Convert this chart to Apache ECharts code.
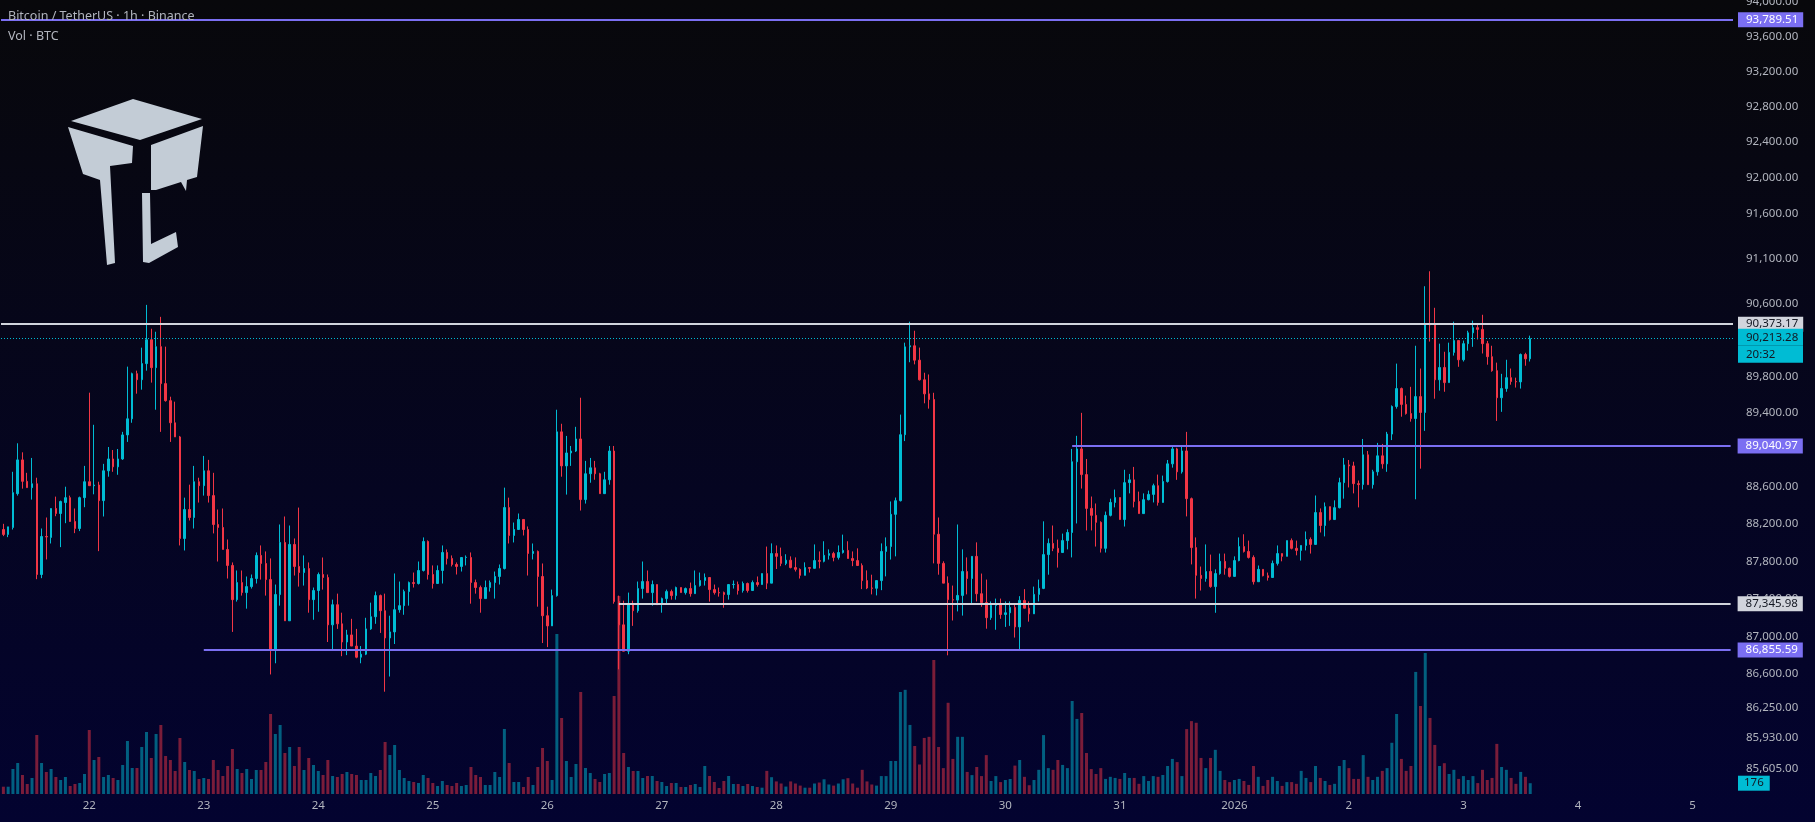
<!DOCTYPE html>
<html>
<head>
<meta charset="utf-8">
<script src="https://cdn.jsdelivr.net/npm/echarts@6/dist/echarts.min.js"></script>
<style>
  html, body { margin: 0; padding: 0; background: #050508; }
  #main { width: 1815px; height: 822px; }
</style>
</head>
<body>
<div id="main"></div>
<script>
// BTCUSDT 1h candles, Dec 21 06:00 -> Jan 3 14:00
const opens = [
  88140,88087,88162,88526,88891,88659,88591,88633,87658,88065,88055,88366,88312,88430,88483,88226,88151,88483,88655,88612,
  88619,88451,88773,88901,88816,88901,89162,89337,89830,89764,89940,90202,89896,90126,89721,89535,89294,89140,88044,88355,
  88269,88655,88612,88773,88505,88194,88162,87926,87755,87390,87572,87465,87529,87615,87862,87776,87604,86854,87444,88001,
  87165,87980,87744,87679,87722,87390,87487,87658,87626,87122,87336,87133,86940,87015,86897,86779,86811,87079,87208,87433,
  87272,86983,87047,87283,87326,87476,87572,87562,87701,88012,87658,87562,87701,87894,87830,87765,87744,87840,87840,87572,
  87519,87401,87519,87572,87637,87722,88376,88076,88140,88248,88140,87883,87905,87637,87219,87111,87433,89195,88826,88966,
  88987,89118,88462,88741,88805,88741,88526,88676,88987,87369,87122,86843,87336,87272,87508,87583,87465,87551,87347,87401,
  87476,87433,87519,87465,87508,87454,87540,87594,87626,87497,87465,87465,87444,87551,87551,87487,87562,87487,87572,87551,
  87668,87566,87882,87852,87777,87811,87732,87713,87649,87732,87724,87807,87799,87863,87882,87841,87893,87916,87829,87807,
  87754,87593,87514,87511,87593,87905,87957,88303,88450,89164,90124,90136,89978,89763,89609,89548,88089,87777,87566,87390,
  87385,87435,87690,87615,87852,87453,87359,87198,87329,87341,87232,87250,87307,87100,87382,87299,87239,87446,87510,87871,
  87991,87938,87893,88021,88108,88871,89010,88732,88367,88292,88217,87938,88292,88431,88484,88247,88645,88675,88442,88311,
  88461,88518,88612,88431,88657,88848,89010,88762,88988,88472,87946,87649,87615,87690,87529,87668,87799,87724,87638,87807,
  87957,87905,87841,87581,87713,87645,87626,87777,87882,87852,88021,87938,87916,87969,88033,87980,88322,88183,88386,88247,
  88375,88645,88837,88826,88634,88624,88946,88623,88762,88935,88848,89171,89471,89667,89494,89394,89340,89579,89406,90370,
  90366,89763,89897,89732,90063,90193,89982,90159,90278,90335,90316,90159,90016,89863,89567,89667,89786,89744,89740,90040,
  89993
];
const closes = [
  88087,88169,88537,88891,88659,88591,88633,87658,88065,88060,88366,88312,88441,88483,88226,88151,88483,88655,88612,88619,
  88451,88773,88901,88816,88901,89162,89337,89830,89764,89940,90202,89896,90126,89721,89535,89294,89140,88044,88355,88269,
  88655,88612,88773,88505,88194,88162,87926,87755,87390,87572,87465,87529,87615,87862,87776,87604,86854,87444,88001,87165,
  87980,87744,87679,87722,87390,87487,87658,87626,87122,87336,87133,86940,87015,86897,86779,86811,87079,87208,87433,87272,
  86983,87047,87283,87326,87476,87572,87562,87701,88012,87658,87562,87701,87894,87830,87765,87744,87840,87843,87572,87519,
  87401,87519,87572,87637,87722,88376,88076,88140,88248,88140,87883,87905,87637,87219,87111,87433,89195,88826,88966,88987,
  89118,88462,88741,88805,88741,88526,88676,88987,87369,87122,86843,87336,87272,87508,87583,87465,87551,87336,87401,87476,
  87433,87519,87465,87508,87454,87540,87594,87626,87497,87465,87462,87444,87551,87553,87487,87562,87487,87572,87551,87668,
  87566,87882,87852,87777,87811,87732,87713,87649,87732,87724,87807,87799,87863,87882,87841,87893,87916,87829,87807,87754,
  87593,87514,87511,87593,87905,87957,88303,88450,89164,90124,90136,89978,89763,89609,89548,88089,87777,87566,87390,87385,
  87435,87690,87615,87852,87453,87359,87198,87329,87341,87232,87250,87307,87100,87382,87299,87239,87446,87510,87871,87991,
  87938,87893,88021,88108,88871,89010,88732,88367,88292,88217,87938,88292,88431,88484,88247,88645,88675,88442,88311,88461,
  88518,88612,88431,88657,88848,89010,88762,88988,88472,87946,87649,87615,87690,87529,87668,87799,87724,87638,87807,87957,
  87905,87841,87581,87713,87645,87626,87777,87882,87852,88021,87938,87916,87969,88033,87980,88322,88183,88386,88247,88375,
  88645,88837,88826,88634,88624,88946,88623,88762,88935,88848,89171,89471,89667,89494,89394,89340,89579,89406,90370,90366,
  89763,89897,89732,90063,90193,89982,90159,90278,90335,90316,90159,90016,89863,89567,89667,89786,89744,89740,90040,89993,
  90213.28
];
const lows = [
  88069,88058,88140,88505,88580,88591,88462,87608,87619,87819,87990,88283,87951,88208,88226,88101,88123,88380,88612,88519,
  87908,88280,88709,88762,88730,88891,89086,89294,89611,89655,89863,89732,89436,89195,89524,89086,89140,87969,87915,88237,
  88151,88430,88505,88430,88098,87797,87926,87615,87047,87369,87433,87294,87508,87562,87604,87433,86597,86715,87326,87165,
  87165,87647,87529,87540,87251,87176,87261,87497,86940,86865,87079,86790,86801,86897,86768,86715,86801,87069,87133,87036,
  86415,86575,86919,87251,87229,87326,87519,87551,87690,87604,87508,87562,87562,87765,87744,87658,87690,87755,87347,87454,
  87251,87401,87476,87401,87551,87712,87990,88001,88140,88076,87647,87819,87315,86929,86886,87111,87422,88709,88516,88826,
  88977,88344,88419,88644,88676,88526,88526,88623,87347,86651,86843,86811,87111,87251,87401,87465,87326,87336,87251,87336,
  87390,87390,87465,87444,87422,87454,87529,87540,87369,87444,87422,87304,87390,87508,87444,87465,87465,87487,87529,87551,
  87502,87566,87717,87747,87758,87724,87690,87615,87649,87679,87724,87724,87788,87818,87799,87818,87882,87829,87747,87754,
  87502,87502,87446,87435,87491,87638,87818,87852,88442,89095,89955,89932,89755,89506,89448,87777,87656,87566,86799,87168,
  87265,87220,87446,87352,87371,87314,87081,87175,87070,87186,87100,87111,86987,86856,87299,87156,87239,87371,87502,87656,
  87908,87732,87893,87927,87841,88205,88581,88130,88130,87957,87893,87893,88281,88378,88247,88172,88529,88378,88311,88311,
  88454,88431,88397,88431,88645,88807,88675,88743,88281,87766,87401,87487,87581,87517,87250,87656,87656,87626,87638,87799,
  87893,87829,87551,87581,87638,87593,87626,87754,87799,87852,87927,87863,87807,87916,87882,87980,88108,88066,88236,88247,
  88367,88472,88593,88529,88378,88570,88623,88581,88721,88796,88762,89106,89448,89360,89383,89306,88465,88796,89206,90182,
  89556,89644,89632,89732,90028,89905,89963,90082,90124,90205,90051,89928,89851,89314,89413,89632,89709,89678,89667,89917,
  89963
];
const highs = [
  88201,88169,88762,89071,88973,88751,88912,88698,88151,88269,88366,88494,88451,88601,88505,88366,88494,88826,89622,89272,
  88655,88848,89031,88998,89009,89195,89907,89841,89863,90115,90586,90323,90290,90454,90126,89578,89524,89151,88483,88623,
  88826,88698,88934,88891,88751,88355,88366,88033,87787,87701,87701,87637,87658,87894,87969,87905,87830,87551,88194,88280,
  88183,88044,88376,87862,87787,87519,87679,87840,87658,87390,87454,87251,87069,87186,87079,86897,87197,87358,87476,87444,
  87454,87219,87669,87583,87497,87583,87679,87797,88055,88023,87755,87755,87969,87926,87862,87787,87840,87862,87894,87604,
  87540,87594,87594,87690,87765,88591,88483,88215,88312,88248,88173,87990,87915,87776,87315,87497,89436,89283,89151,89042,
  89250,89567,88880,88912,88880,88751,88762,89042,89042,87433,87379,87465,87379,87583,87797,87701,87594,87551,87412,87497,
  87497,87529,87519,87519,87572,87701,87679,87669,87626,87551,87519,87476,87551,87594,87583,87583,87572,87594,87637,87668,
  87957,87991,87969,87946,87875,87852,87841,87724,87788,87732,87980,87905,88014,87927,87901,87969,88085,88014,87905,87938,
  87777,87702,87656,87593,87991,88055,88442,88484,89383,90170,90401,90301,90116,89840,89821,89621,88269,87799,87638,87540,
  88194,87927,87841,87852,88002,87668,87604,87371,87401,87401,87371,87371,87352,87427,87502,87371,87529,87604,88228,88044,
  88183,88032,88096,88142,89010,89152,89402,88901,88495,88420,88228,88333,88472,88570,88484,88784,88739,88815,88548,88529,
  88559,88634,88732,88721,88890,89041,89022,89033,89195,88484,88055,87743,87980,87871,87713,87882,87882,87732,87852,88055,
  88089,88021,87863,87754,87713,87679,87807,87969,87882,88021,88044,88021,87969,88119,88055,88506,88367,88431,88386,88454,
  88698,88912,88890,88871,88668,89118,88988,88784,89075,89064,89195,89483,89940,89678,89590,89686,90136,89886,90792,90958,
  90554,90159,90070,90170,90401,90193,90193,90301,90412,90378,90477,90189,90136,89951,89828,89982,89886,89786,90051,90059,
  90247
];
const volumes = [
  119,119,408,505,310,163,261,962,505,359,408,277,228,277,130,163,179,326,1043,554,
  603,277,310,261,228,473,864,424,424,766,1011,587,978,1125,619,554,375,913,522,391,
  375,245,261,245,554,391,293,456,734,408,342,408,245,391,391,522,1304,978,1125,668,
  766,456,766,391,587,473,375,310,554,293,277,326,359,326,310,228,228,342,293,391,
  848,636,799,391,261,212,196,179,310,261,179,130,212,147,130,179,130,147,440,310,
  277,147,147,359,277,1060,505,196,196,114,277,147,440,750,538,228,2608,1239,538,277,
  489,1663,424,342,245,196,326,342,1597,3227,668,440,375,375,261,293,293,212,196,130,
  179,179,114,114,147,163,114,456,293,196,98,212,293,163,163,130,163,130,114,103,
  377,274,205,171,121,205,171,137,103,103,171,187,240,155,137,171,240,258,171,103,
  394,205,155,137,292,292,538,538,1663,1698,1126,782,481,914,932,2184,766,422,1487,572,
  932,932,360,308,440,292,634,212,292,194,228,245,463,554,280,143,228,394,960,422,
  394,554,474,422,1516,1224,1320,668,406,326,422,246,280,262,246,342,262,262,166,292,
  212,292,280,310,456,572,520,292,1058,1188,1161,588,422,588,720,377,228,194,228,246,
  212,148,456,280,132,228,280,212,132,194,194,166,377,262,194,456,262,212,148,166,
  456,554,422,246,246,634,280,228,280,377,422,835,1304,572,377,456,1990,1434,2298,1240,
  800,456,502,326,394,246,292,228,292,178,394,228,262,817,440,394,262,166,360,280,
  176
];
// right price scale labels
const priceTicks = [94000, 93600, 93200, 92800, 92400, 92000, 91600, 91100, 90600, 89800, 89400,
  88600, 88200, 87800, 87400, 87000, 86600, 86250, 85930, 85605];
// drawn levels
const topLevel = 93789.51;
const resistance = 90373.17;
const lastPrice = 90213.28;
const midLevel = 89040.97;
const supportHigh = 87345.98;
const supportLow = 86855.59;
const lastVolume = 176;

// hourly categories, with empty room on the right
const slotCount = 363;
const startMs = Date.UTC(2025, 11, 21, 6);
const categories = [];
for (let i = 0; i < slotCount; i++) {
  categories.push(new Date(startMs + i * 3600000).toISOString().slice(0, 16).replace('T', ' '));
}

const upColor = '#00bcd4';
const downColor = '#f23645';
const purple = '#7b6ff2';
const grey = '#d1d4dc';
const textGrey = '#b2b5be';
const dark = '#131722';
const font = 'Noto Sans';

const fmt = v => Number(v).toLocaleString('en-US', { minimumFractionDigits: 2, maximumFractionDigits: 2 });

const candleData = opens.map((o, i) => [o, closes[i], lows[i], highs[i]]);
const volData = volumes.map((v, i) => ({
  value: v,
  itemStyle: { color: closes[i] >= opens[i] ? 'rgba(0,188,212,0.5)' : 'rgba(242,54,69,0.5)' }
}));

function tag(bg, fg, extra) {
  return Object.assign({
    show: true, position: 'end', distance: 5,
    backgroundColor: bg, color: fg,
    fontFamily: font, fontSize: 11.5, lineHeight: 12,
    padding: [2, 5, 1, 8]
  }, extra || {});
}

const lastSlot = slotCount - 1;

var chartDom = document.getElementById('main');
var myChart = echarts.init(chartDom);
var option = {
  animation: false,
  backgroundColor: {
    type: 'linear', x: 0, y: 0, x2: 0, y2: 1,
    colorStops: [{ offset: 0, color: '#08080b' }, { offset: 1, color: '#030330' }]
  },
  title: {
    text: 'Bitcoin / TetherUS · 1h · Binance',
    subtext: 'Vol · BTC',
    left: 8, top: 10, padding: 0, itemGap: 7,
    textStyle: { color: textGrey, fontSize: 12.5, fontWeight: 'normal', fontFamily: font, lineHeight: 12 },
    subtextStyle: { color: textGrey, fontSize: 12.5, fontFamily: font, lineHeight: 12 }
  },
  graphic: [
    { type: 'polygon', silent: true, z: 0,
      shape: { points: [[71, 121], [133, 99], [202, 119], [140, 140]] },
      style: { fill: '#c3ccd6' } },
    { type: 'polygon', silent: true, z: 0,
      shape: { points: [[68, 127], [133, 146], [132, 163], [110, 166], [115, 263], [107, 265], [100, 180], [83, 174]] },
      style: { fill: '#c3ccd6' } },
    { type: 'polygon', silent: true, z: 0,
      shape: { points: [[151, 145], [203, 126], [197, 177], [187, 180], [186, 191], [181, 182], [156, 190], [151, 190]] },
      style: { fill: '#c3ccd6' } },
    { type: 'polygon', silent: true, z: 0,
      shape: { points: [[142, 193], [150, 193], [151, 244], [176, 232], [178, 247], [149, 263], [143, 262]] },
      style: { fill: '#c3ccd6' } }
  ],
  grid: { left: 1, right: 82, top: 0, bottom: 28, outerBoundsMode: 'none', containLabel: false },
  xAxis: {
    type: 'category',
    data: categories,
    boundaryGap: true,
    axisLine: { show: false },
    axisTick: { show: false },
    splitLine: { show: false },
    axisLabel: {
      interval: (idx, val) => val.slice(11) === '00:00',
      formatter: val => {
        const d = parseInt(val.slice(8, 10), 10);
        if (d === 1 && val.slice(5, 7) === '01') return val.slice(0, 4);
        return String(d);
      },
      color: textGrey, fontSize: 11.5, fontFamily: font, margin: 6
    }
  },
  yAxis: [
    {
      type: 'log', logBase: 10,
      min: 85344.5, max: 94014.9,
      position: 'right',
      axisLine: { show: false },
      axisTick: { show: false },
      splitLine: { show: false },
      axisLabel: {
        customValues: priceTicks,
        formatter: v => fmt(v),
        color: textGrey, fontSize: 11.5, fontFamily: font, margin: 13
      }
    },
    { type: 'value', min: 0, max: 12942, show: false }
  ],
  series: [
    {
      type: 'bar',
      name: 'Vol',
      yAxisIndex: 1,
      data: volData,
      barWidth: 3,
      markLine: {
        symbol: 'none', silent: true,
        lineStyle: { color: 'rgba(0,0,0,0)', width: 1, type: 'solid' },
        data: [{ yAxis: lastVolume, label: tag(upColor, dark, { formatter: String(lastVolume), padding: [2, 6, 1, 6] }) }]
      }
    },
    {
      type: 'candlestick',
      name: 'BTCUSDT',
      data: candleData,
      barWidth: 2,
      itemStyle: {
        color: upColor, color0: downColor,
        borderColor: upColor, borderColor0: downColor,
        borderWidth: 1
      },
      markLine: {
        symbol: 'none', silent: true,
        data: [
          { yAxis: topLevel, lineStyle: { color: purple, width: 2, type: 'solid' },
            label: tag(purple, '#ffffff', { formatter: fmt(topLevel) }) },
          { yAxis: resistance, lineStyle: { color: grey, width: 2, type: 'solid' },
            label: tag(grey, dark, { formatter: fmt(resistance) }) },
          { yAxis: lastPrice, lineStyle: { color: upColor, width: 1, type: [1, 2] },
            label: {
              show: true, position: 'end', distance: 5,
              formatter: '{e| }\n{p|' + fmt(lastPrice) + '}\n{t|20:32}',
              rich: {
                e: { height: 14, lineHeight: 14, fontSize: 1 },
                p: { backgroundColor: upColor, color: dark, width: 52, height: 13, lineHeight: 17, padding: [2, 5, 2, 8], fontSize: 11.5, fontFamily: font },
                t: { backgroundColor: upColor, color: dark, width: 52, height: 13, lineHeight: 17, padding: [2, 5, 2, 8], fontSize: 11.5, fontFamily: font }
              }
            } },
          [
            { coord: [224, midLevel], lineStyle: { color: purple, width: 2, type: 'solid' },
              label: tag(purple, '#ffffff', { formatter: fmt(midLevel), distance: 7 }) },
            { coord: [lastSlot, midLevel] }
          ],
          [
            { coord: [129, supportHigh], lineStyle: { color: grey, width: 2, type: 'solid' },
              label: tag(grey, dark, { formatter: fmt(supportHigh), distance: 7 }) },
            { coord: [lastSlot, supportHigh] }
          ],
          [
            { coord: [42, supportLow], lineStyle: { color: purple, width: 2, type: 'solid' },
              label: tag(purple, '#ffffff', { formatter: fmt(supportLow), distance: 7 }) },
            { coord: [lastSlot, supportLow] }
          ]
        ]
      }
    }
  ]
};
option && myChart.setOption(option);
</script>
</body>
</html>
